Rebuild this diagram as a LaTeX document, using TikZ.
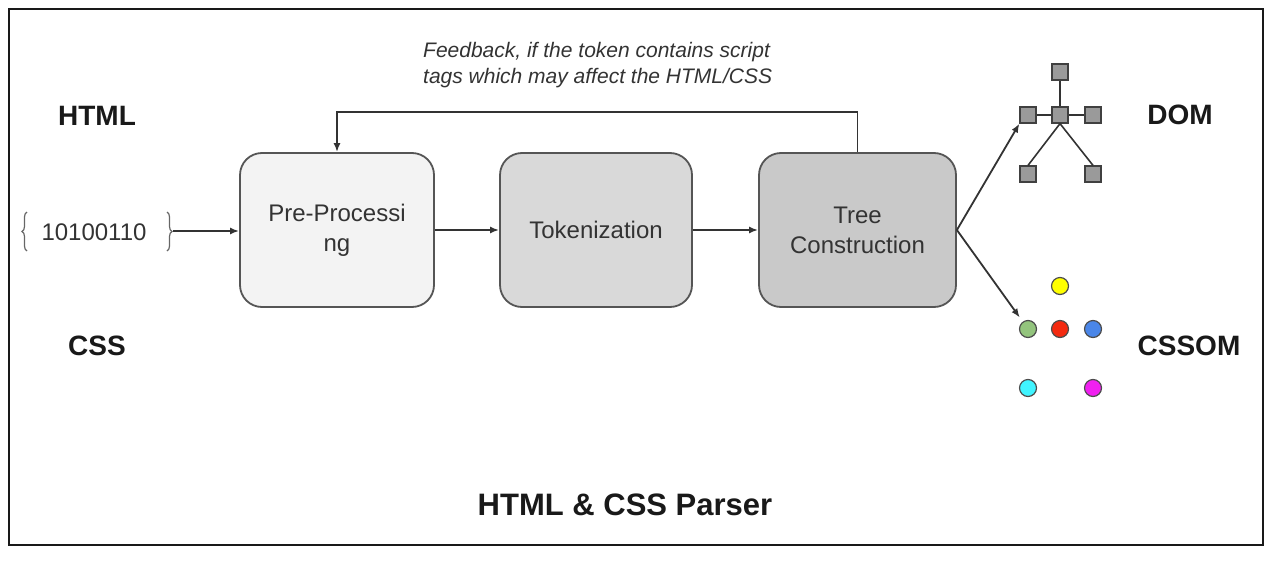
\documentclass[tikz,border=0pt]{standalone}
\usepackage{fontspec}
\setmainfont{Liberation Sans}
\usetikzlibrary{arrows.meta,decorations.pathreplacing}
\definecolor{boxborder}{HTML}{555555}
\definecolor{txt}{HTML}{333333}
\definecolor{lin}{HTML}{333333}
\definecolor{fillA}{HTML}{F3F3F3}
\definecolor{fillB}{HTML}{D9D9D9}
\definecolor{fillC}{HTML}{C9C9C9}
\definecolor{sqfill}{HTML}{9A9A9A}
\definecolor{dotY}{HTML}{FFFF00}
\definecolor{dotG}{HTML}{93C47D}
\definecolor{dotR}{HTML}{F42A10}
\definecolor{dotB}{HTML}{4A86E8}
\definecolor{dotC}{HTML}{40F4FF}
\definecolor{dotM}{HTML}{F020F0}
\tikzset{
  stagebox/.style={draw=boxborder, line width=1.8pt, rounded corners=22pt,
    minimum height=154pt, align=center, text=txt, inner sep=0pt,
    font=\fontsize{24}{30}\selectfont},
  arr/.style={draw=lin, line width=1.8pt, -{Latex[length=9pt,width=7pt]}},
  plain/.style={draw=lin, line width=1.6pt},
  biglabel/.style={font=\fontsize{28}{32}\selectfont\bfseries, text=black!90},
  sq/.style={draw=black!75, fill=sqfill, minimum size=16pt, inner sep=0pt, line width=1.2pt},
  dot/.style={circle, draw=black!70, line width=1.2pt, minimum size=17pt, inner sep=0pt},
}
\begin{document}
\begin{tikzpicture}[x=1pt,y=-1pt]
\useasboundingbox (0,0) rectangle (1274,562);
\draw[line width=2pt, black!90] (9,9) rectangle (1263,545);

% labels
\node[biglabel] (lhtml) at (97,116) {HTML};
\node[biglabel] (lcss) at (97,346) {CSS};
\node[biglabel] (ldom) at (1180,115) {DOM};
\node[biglabel] (lcssom) at (1189,346) {CSSOM};
\node[font=\fontsize{31}{36}\selectfont\bfseries, text=black!90] (ltitle) at (625,505) {HTML \& CSS Parser};

% stages
\node[stagebox, fill=fillA, minimum width=194pt] (pre) at (337,230) {Pre-Processi\\ng};
\node[stagebox, fill=fillB, minimum width=192pt] (tok) at (596,230) {Tokenization};
\node[stagebox, fill=fillC, minimum width=197pt] (tree) at (857.5,230) {Tree\\Construction};

% input
\node[text=txt, font=\fontsize{24}{28}\selectfont] (inp) at (94,232) {10100110};
\draw[decorate, decoration={brace, amplitude=5pt}, draw=black!60, line width=1.2pt]
  (27,251) -- (27,212);
\draw[decorate, decoration={brace, amplitude=5pt}, draw=black!60, line width=1.2pt]
  (167,212) -- (167,251);
\coordinate (braceR) at (173,231);
\draw[arr] (braceR) -- (braceR -| pre.west);

% flow arrows
\draw[arr] (pre.east) -- (tok.west);
\draw[arr] (tok.east) -- (tree.west);

% feedback
\draw[arr] (tree.north) -- ++(0,-40) -| (pre.north);
\node[anchor=west, align=left, text=txt, inner sep=0pt,
  font=\fontsize{21}{26}\selectfont\itshape] (fb) at (423,65)
  {Feedback, if the token contains script\\tags which may affect the HTML/CSS};

% DOM tree
\node[sq] (dc) at (1060,115) {};
\node[sq] (dt) at (1060,72) {};
\node[sq] (dl) at (1028,115) {};
\node[sq] (dr) at (1093,115) {};
\node[sq] (dbl) at (1028,174) {};
\node[sq] (dbr) at (1093,174) {};
\draw[plain] (dc) -- (dt);
\draw[plain] (dl) -- (dc);
\draw[plain] (dc) -- (dr);
\draw[plain] (dc.south) -- (dbl.north);
\draw[plain] (dc.south) -- (dbr.north);

% CSSOM dots
\node[dot, fill=dotY] (cy) at (1060,286) {};
\node[dot, fill=dotG] (cg) at (1028,329) {};
\node[dot, fill=dotR] (cr) at (1060,329) {};
\node[dot, fill=dotB] (cb) at (1093,329) {};
\node[dot, fill=dotC] (cc) at (1028,388) {};
\node[dot, fill=dotM] (cm) at (1093,388) {};

% outputs
\draw[arr] (tree.east) -- (dl.south west);
\draw[arr, shorten >=5pt] (tree.east) -- (cg);
\end{tikzpicture}
\end{document}
